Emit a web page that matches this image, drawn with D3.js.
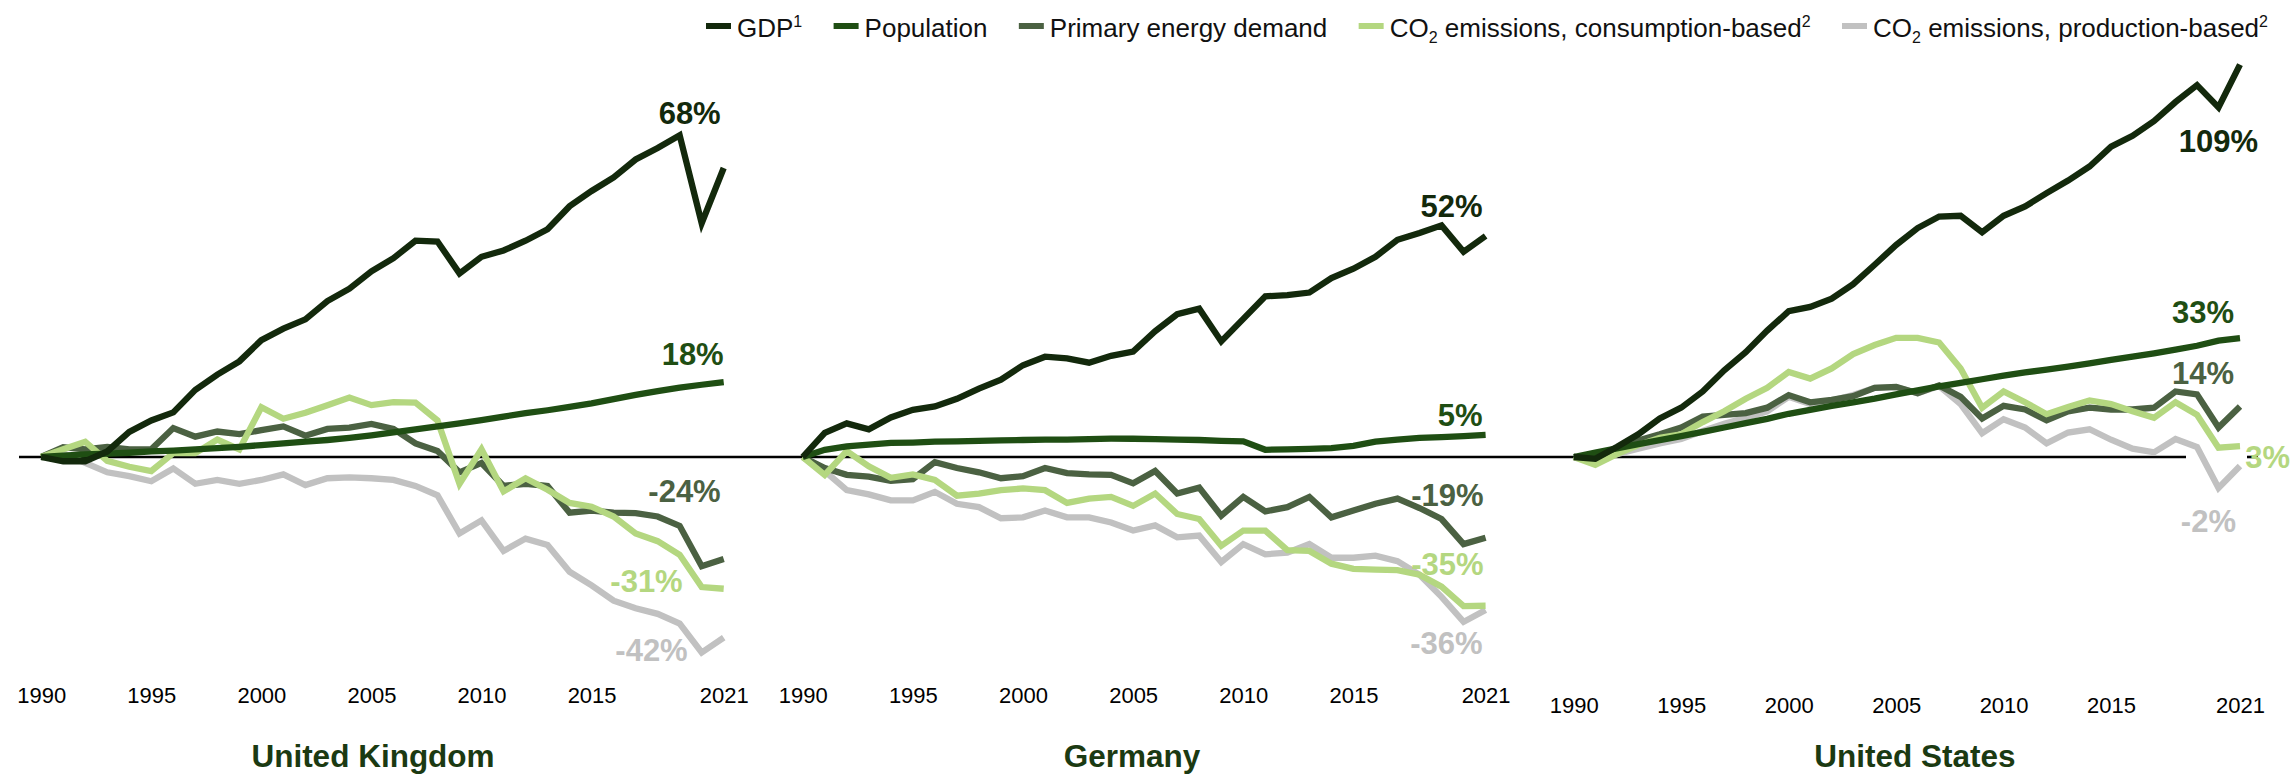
<!DOCTYPE html>
<html><head><meta charset="utf-8">
<script src="https://cdn.jsdelivr.net/npm/d3@7"></script>
<style>
html,body{margin:0;padding:0;background:#fff;}
svg{display:block;font-family:"Liberation Sans",Arial,Helvetica,sans-serif;}
</style></head><body>
<svg id="chart" width="2294" height="776"></svg>
<script>
// ---------- DATA (change vs. 1990, %) ----------
const years = [1990,1991,1992,1993,1994,1995,1996,1997,1998,1999,2000,2001,2002,2003,2004,2005,2006,2007,2008,2009,2010,2011,2012,2013,2014,2015,2016,2017,2018,2019,2020,2021];
const tickYears = [1990,1995,2000,2005,2010,2015,2021];
const seriesNames = ["GDP", "Population", "Primary energy demand", "CO2 emissions, consumption-based", "CO2 emissions, production-based"];
const panelTitles = ["United Kingdom", "Germany", "United States"];

const ukGDP  = [0,-1,-1,1.3,5.9,8.6,10.5,15.8,19.4,22.5,27.5,30.2,32.4,36.7,39.6,43.7,46.8,50.9,50.7,43.2,47.1,48.6,50.9,53.6,59,62.6,65.8,70,72.7,75.7,55,68];
const ukPop  = [0,0.3,0.6,0.8,1.0,1.3,1.5,1.8,2.1,2.4,2.8,3.2,3.6,4.0,4.5,5.1,5.8,6.5,7.2,7.9,8.7,9.5,10.3,11.0,11.8,12.6,13.6,14.6,15.5,16.3,17.0,17.6];
const ukEnergy = [0,2.3,1.8,2.4,1.8,1.8,6.8,4.8,6,5.4,6.3,7.2,5,6.6,6.9,7.8,6.6,3.2,1.4,-3.6,-1.4,-6.8,-6.3,-6.8,-13.1,-12.6,-13.1,-13.2,-14,-16.2,-25.7,-24];
const ukCO2Cons = [0,1.8,3.6,-0.9,-2.3,-3.3,0.9,0.9,4.1,1.8,11.7,9,10.4,12.2,14,12.2,12.9,12.8,8.6,-6.3,1.8,-8.1,-5,-7.7,-10.8,-11.7,-14,-18,-19.8,-23,-30.6,-31];
const ukCO2Prod = [0,0.9,-1.4,-3.6,-4.5,-5.7,-2.7,-6.3,-5.4,-6.3,-5.4,-4.1,-6.6,-5,-4.8,-5,-5.4,-6.8,-9,-18,-14.9,-22.1,-19.2,-20.7,-27,-30.2,-33.8,-35.6,-36.9,-39.2,-46,-42.5];

const deGDP  = [0,5.7,7.9,6.5,9.3,11.1,11.9,13.7,16.1,18.2,21.6,23.6,23.2,22.2,23.8,24.8,29.6,33.6,34.9,27.2,32.5,37.8,38.1,38.7,42.1,44.3,47.1,51.1,52.7,54.5,48.3,52];
const dePop  = [0,1.7,2.5,2.9,3.3,3.4,3.6,3.7,3.8,3.9,4.0,4.1,4.1,4.2,4.3,4.3,4.2,4.1,4.0,3.8,3.7,1.7,1.8,1.9,2.1,2.6,3.6,4.1,4.5,4.7,4.9,5.2];
const deEnergy = [0,-2.6,-4.2,-4.6,-5.6,-5.2,-1.2,-2.6,-3.6,-5,-4.5,-2.6,-3.8,-4.1,-4.2,-6.2,-3.3,-8.6,-7.2,-13.8,-9.4,-12.8,-11.8,-9.4,-14.2,-12.6,-11,-9.8,-12,-14.6,-20.5,-19];
const deCO2Cons = [0,-4.2,1.4,-2.2,-4.9,-4.1,-5.4,-9.1,-8.6,-7.8,-7.4,-7.8,-10.8,-9.8,-9.4,-11.5,-8.6,-13.4,-14.6,-20.9,-17.3,-17.3,-21.9,-22.1,-25.1,-26.3,-26.5,-26.6,-27.7,-30.5,-35.1,-35];
const deCO2Prod = [0,-3.3,-7.8,-8.8,-10.2,-10.2,-8.2,-11,-11.8,-14.4,-14.2,-12.6,-14.2,-14.2,-15.4,-17.3,-16.1,-18.9,-18.5,-24.7,-20.5,-22.9,-22.5,-20.5,-23.7,-23.7,-23.2,-24.5,-27.7,-32.9,-38.8,-36];

const usGDP  = [0,-0.5,2.8,6.3,10.7,13.7,18.2,24.1,29.1,35.1,40.5,41.7,44,48,53.4,58.9,63.6,66.8,67,62.4,67,69.6,73.3,76.8,80.7,86.2,89.2,93.3,98.6,103.3,97.1,109];
const usPop  = [0,1.2,2.4,3.6,4.7,5.8,7.0,8.2,9.4,10.6,12.0,13.1,14.2,15.2,16.2,17.4,18.5,19.6,20.6,21.6,22.6,23.5,24.3,25.1,26.0,27.0,27.9,28.8,29.8,30.9,32.3,33];
const usEnergy = [0,-0.7,2.3,4.6,6.3,8.2,11.2,11.7,12.2,13.7,17.2,15.2,15.9,16.9,19.2,19.5,17.7,19.9,16.7,10.7,14.2,13.2,10.2,12.7,13.7,13.2,13.2,13.7,18.2,17.4,8.2,14];
const usCO2Cons = [0,-2.2,0.8,3.3,5.3,6.3,9.7,12.7,16.2,19.2,23.6,21.8,24.6,28.6,31.1,33.1,33.1,31.8,24.6,13.7,18.2,15.2,11.9,13.9,15.7,14.7,12.7,10.9,15.2,11.7,2.6,3];
const usCO2Prod = [0,-1.2,0.8,2.3,3.8,5,7.2,9.2,10.9,12.7,16.7,14.7,15.7,17.2,19.2,19.4,17.7,19.7,14.7,6.6,10.5,8.2,3.8,6.8,7.7,4.8,2.3,1.3,5,2.8,-8.6,-2.5];

// end labels (text) and the value level at which each label sits
const ukLabels = ["68%","18%","-24%","-31%","-42%"];
const ukLabelLevels = [81, 24.3, -8, -29.2, -45.4];
const deLabels = ["52%","5%","-19%","-35%","-36%"];
const deLabelLevels = [59, 9.9, -8.9, -25.2, -43.8];
const usLabels = ["109%","33%","14%","3%","-2%"];
const usLabelLevels = [87.8, 40.3, 23.3, 0, -17.8];

// ---------- STYLE / LAYOUT ----------
const colors = ["#13290c", "#1f4e13", "#4b6142", "#b4d780", "#c1c1c1"];
const drawOrder = [4, 2, 3, 1, 0];
const zeroY = 457;
const panels = [
  {series:[ukGDP,ukPop,ukEnergy,ukCO2Cons,ukCO2Prod], labels:ukLabels, levels:ukLabelLevels,
   x:[41.2,723.7], pxPerPct:4.25, labelDx:[-3,0,-3,-41,-36], axisY:687, titleX:373},
  {series:[deGDP,dePop,deEnergy,deCO2Cons,deCO2Prod], labels:deLabels, levels:deLabelLevels,
   x:[802.7,1485.6], pxPerPct:4.25, labelDx:[-3,-3,-2,-2,-3], axisY:687, titleX:1132},
  {series:[usGDP,usPop,usEnergy,usCO2Cons,usCO2Prod], labels:usLabels, levels:usLabelLevels,
   x:[1573.8,2240], pxPerPct:3.6, labelDx:[18,-6,-6,50,-4], axisY:697, titleX:1915}
];

const svg = d3.select("#chart");
svg.append("rect").attr("width",2294).attr("height",776).attr("fill","#fff");

// zero line
svg.append("line").attr("x1",19).attr("x2",2186).attr("y1",zeroY).attr("y2",zeroY)
  .attr("stroke","#000").attr("stroke-width",2.6);
svg.append("line").attr("x1",2247).attr("x2",2258).attr("y1",zeroY).attr("y2",zeroY)
  .attr("stroke","#000").attr("stroke-width",2.6);

panels.forEach((p, pi) => {
  const x = d3.scaleLinear().domain([years[0], years[years.length-1]]).range(p.x);
  const y = d3.scaleLinear().domain([0, 100]).range([zeroY, zeroY - 100*p.pxPerPct]);
  const g = svg.append("g");

  const line = d3.line().x((d,i)=>x(years[i])).y(d=>y(d));
  drawOrder.forEach(si => {
    g.append("path").datum(p.series[si])
      .attr("d", line).attr("fill","none")
      .attr("stroke", colors[si]).attr("stroke-width",6.3)
      .attr("stroke-linejoin","miter").attr("stroke-miterlimit",4).attr("stroke-linecap","butt");
  });

  // end labels
  p.labels.forEach((t, si) => {
    g.append("text").text(t)
      .attr("x", x(2021) + p.labelDx[si]).attr("y", y(p.levels[si])).attr("dy","0.35em")
      .attr("text-anchor","end").attr("font-size",31).attr("font-weight","bold")
      .attr("fill", colors[si]);
  });

  // x axis
  const ax = g.append("g").attr("transform", `translate(0,${p.axisY})`)
    .call(d3.axisBottom(x).tickValues(tickYears).tickFormat(d3.format("d")).tickSize(0).tickPadding(0));
  ax.select(".domain").remove();
  ax.selectAll("text").attr("font-size",22).attr("fill","#000")
    .attr("font-family","'Liberation Sans',Arial,sans-serif");

  // title
  g.append("text").text(panelTitles[pi]).attr("x", p.titleX).attr("y", 767)
    .attr("text-anchor","middle").attr("font-size",31.5).attr("font-weight","bold").attr("fill","#1b3a12");
});

// ---------- LEGEND ----------
const legendParts = [
  [["GDP",""],["1","sup"]],
  [["Population",""]],
  [["Primary energy demand",""]],
  [["CO",""],["2","sub"],[" emissions, consumption-based",""],["2","sup"]],
  [["CO",""],["2","sub"],[" emissions, production-based",""],["2","sup"]]
];
const lg = svg.append("g");
const items = legendParts.map((parts, i) => {
  const it = lg.append("g");
  it.append("rect").attr("width",25).attr("height",6).attr("y",23).attr("fill",colors[i]);
  const t = it.append("text").attr("x",31).attr("y",37).attr("font-size",26).attr("fill","#111");
  parts.forEach(([s, kind]) => {
    const ts = t.append("tspan").text(s);
    if (kind === "sup") ts.attr("font-size",16).attr("dy",-10);
    else if (kind === "sub") ts.attr("font-size",16).attr("dy",6);
    else ts.attr("dy", 0);
  });
  const tsAll = t.selectAll("tspan").nodes();
  let acc = 0;
  tsAll.forEach(n => { const dy = +n.getAttribute("dy"); n.setAttribute("dy", dy - acc); acc = dy; });
  return {g: it, w: 31 + t.node().getComputedTextLength()};
});
const legStart = 706, legEnd = 2268;
const total = d3.sum(items, d => d.w);
const gap = (legEnd - legStart - total) / (items.length - 1);
let cx = legStart;
items.forEach(d => { d.g.attr("transform", `translate(${cx},0)`); cx += d.w + gap; });
</script>
</body></html>
